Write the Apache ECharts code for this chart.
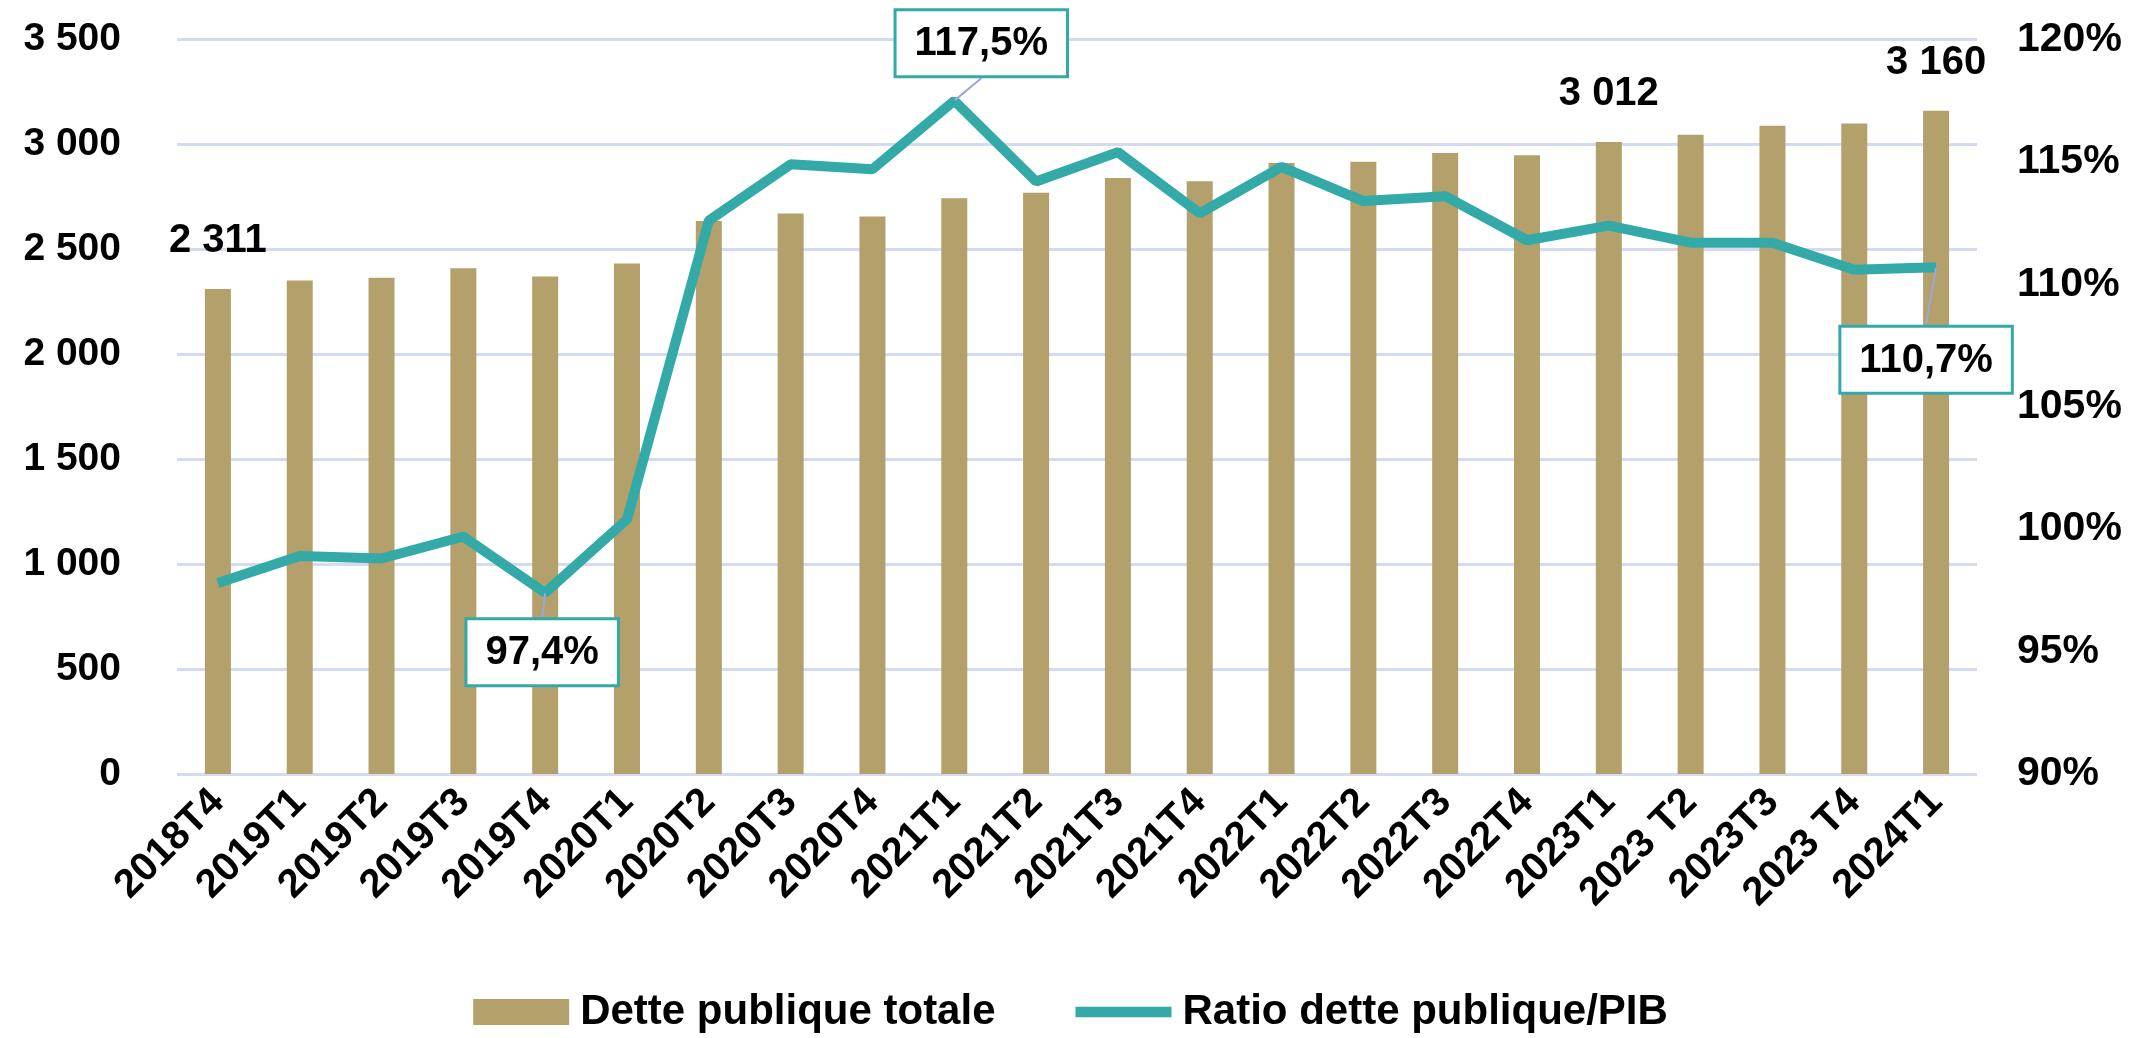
<!DOCTYPE html>
<html>
<head>
<meta charset="utf-8">
<script src="https://cdn.jsdelivr.net/npm/echarts@6/dist/echarts.min.js"></script>
<style>
  html, body { margin: 0; padding: 0; background: #fff; }
  #chart { width: 2141px; height: 1038px; }
</style>
</head>
<body>
<div id="chart"></div>
<script>
var categories = ['2018T4','2019T1','2019T2','2019T3','2019T4','2020T1','2020T2','2020T3','2020T4','2021T1','2021T2',
                  '2021T3','2021T4','2022T1','2022T2','2022T3','2022T4','2023T1','2023 T2','2023T3','2023 T4','2024T1'];
var dette = [2311,2352,2365,2410,2371,2433,2635,2671,2657,2743,2770,2840,2824,2911,2917,2959,2949,3012,3046,3089,3100,3160];
var ratio = [97.8,98.9,98.8,99.7,97.4,100.4,112.6,114.9,114.7,117.5,114.2,115.4,112.9,114.8,113.4,113.6,111.8,112.4,111.7,111.7,110.6,110.7];
var barLabelIdx = [0,17,21];
var ratioLabelIdx = [4,9,21];

var myChart = echarts.init(document.getElementById('chart'));
var FONT = '"Liberation Sans", Arial, sans-serif';
var TEAL = '#33a9a8';
var GOLD = '#b3a06a';

function spaced(v) {
  return String(v).replace(/\B(?=(\d{3})+(?!\d))/g, ' ');
}

// where each ratio box sits relative to its point
var boxPlace = {
  4: {position: 'bottom', dx: -3, dy: 22},
  9: {position: 'top', dx: 27, dy: -20},
  21: {position: 'bottom', dx: -10, dy: 55}
};

var option = {
  animation: false,
  grid: {left: 177, right: 164, top: 39.5, bottom: 264},
  legend: {
    bottom: 0,
    left: 'center',
    itemGap: 80,
    itemWidth: 96,
    itemHeight: 26,
    textStyle: {fontFamily: FONT, fontSize: 42, fontWeight: 'bold', color: '#000', padding: [0, 0, 0, 6]},
    data: [
      {name: 'Dette publique totale', icon: 'rect'},
      {name: 'Ratio dette publique/PIB', icon: 'path://M0,0 H100 V11 H0 Z', itemStyle: {color: TEAL}}
    ]
  },
  xAxis: {
    type: 'category',
    data: categories,
    axisLine: {show: false},
    axisTick: {show: false},
    axisLabel: {
      interval: 0, rotate: 45, margin: 22,
      fontFamily: FONT, fontSize: 40, fontWeight: 'bold', color: '#000'
    }
  },
  yAxis: [
    {
      type: 'value', min: 0, max: 3500, interval: 500,
      axisLine: {show: false}, axisTick: {show: false},
      splitLine: {lineStyle: {color: '#d3daf2', width: 3}},
      axisLabel: {
        margin: 56, fontFamily: FONT, fontSize: 39, fontWeight: 'bold', color: '#000',
        formatter: function (v) { return spaced(v); }
      }
    },
    {
      type: 'value', min: 90, max: 120, interval: 5,
      axisLine: {show: false}, axisTick: {show: false}, splitLine: {show: false},
      axisLabel: {
        margin: 40, fontFamily: FONT, fontSize: 41, fontWeight: 'bold', color: '#000',
        formatter: '{value}%'
      }
    }
  ],
  series: [
    {
      name: 'Dette publique totale',
      type: 'bar',
      barWidth: 26,
      itemStyle: {color: GOLD},
      data: dette.map(function (v, i) {
        return {
          value: v,
          label: {show: barLabelIdx.indexOf(i) >= 0}
        };
      }),
      label: {
        position: 'top', distance: 28,
        fontFamily: FONT, fontSize: 40, fontWeight: 'bold', color: '#000',
        formatter: function (p) { return spaced(p.value); }
      }
    },
    {
      name: 'Ratio dette publique/PIB',
      type: 'line',
      yAxisIndex: 1,
      symbol: 'circle',
      symbolSize: 1,
      showSymbol: true,
      lineStyle: {color: TEAL, width: 10},
      itemStyle: {color: TEAL},
      data: ratio.map(function (v, i) {
        var on = ratioLabelIdx.indexOf(i) >= 0;
        return {
          value: v,
          label: {show: on, position: on ? boxPlace[i].position : 'top'}
        };
      }),
      label: {
        show: false,
        distance: 5,
        fontFamily: FONT, fontSize: 40, fontWeight: 'bold', color: '#000',
        backgroundColor: '#fff', borderColor: TEAL, borderWidth: 3,
        padding: [13, 18, 11, 18],
        formatter: function (p) { return String(p.value).replace('.', ',') + '%'; }
      },
      labelLine: {show: true, lineStyle: {color: '#9aa6e0', width: 2}},
      labelLayout: function (p) {
        var b = boxPlace[p.dataIndex];
        return b ? {dx: b.dx, dy: b.dy} : {};
      },
      z: 3
    }
  ]
};

if (option && typeof option === "object") {
  myChart.setOption(option, true);
}
window.onresize = function () {
  myChart.resize();
};
</script>
</body>
</html>
